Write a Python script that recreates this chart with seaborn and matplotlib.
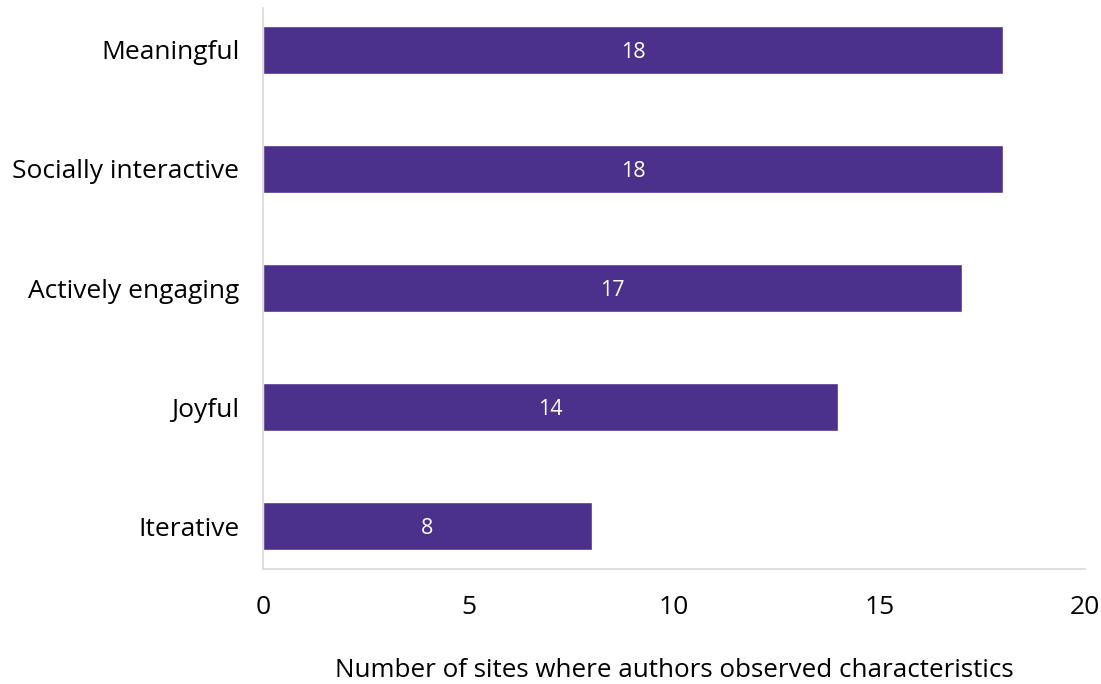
import matplotlib
matplotlib.use("Agg")
import matplotlib.pyplot as plt
import seaborn as sns
import pandas as pd

categories = ["Meaningful", "Socially interactive", "Actively engaging", "Joyful", "Iterative"]
sites = [18, 18, 17, 14, 8]
x_ticks = [0, 5, 10, 15, 20]
x_label = "Number of sites where authors observed characteristics"

sns.set_theme(style="white")
plt.rcParams["font.family"] = ["Open Sans", "DejaVu Sans"]

df = pd.DataFrame({"characteristic": categories, "sites": sites})

fig = plt.figure(figsize=(11.01, 6.84), dpi=100)
ax = fig.add_axes([0.2389, 0.168, 0.7466, 0.820])

sns.barplot(data=df, x="sites", y="characteristic", orient="h",
            color="#4c318c", saturation=1, width=0.40, ax=ax)

for patch, val in zip(ax.patches, sites):
    cx = patch.get_x() + patch.get_width() / 2
    cy = patch.get_y() + patch.get_height() / 2
    ax.text(cx, cy, f"{val}", color="white", ha="center", va="center_baseline",
            fontsize=15.5)

ax.set_xlim(0, 20)
ax.set_ylim(4.36, -0.35)
ax.set_xticks(x_ticks)
ax.set_xticklabels([str(t) for t in x_ticks])
ax.tick_params(axis="x", length=0, pad=19, labelsize=19, colors="black")
ax.tick_params(axis="y", length=0, pad=17, labelsize=19, colors="black")
ax.set_ylabel("")
ax.set_xlabel(x_label, fontsize=18.7, labelpad=27, color="black")

for side in ["top", "right"]:
    ax.spines[side].set_visible(False)
for side in ["left", "bottom"]:
    ax.spines[side].set_color("#d9d9d9")
    ax.spines[side].set_linewidth(1.2)

fig.savefig("out.png", dpi=100)
